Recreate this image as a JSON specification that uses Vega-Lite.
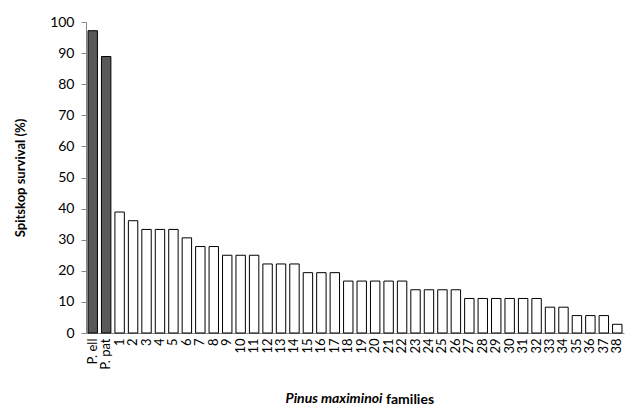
{
  "$schema": "https://vega.github.io/schema/vega-lite/v6.json",
  "width": 538,
  "height": 311,
  "autosize": {"type": "none"},
  "padding": {"left": 86, "top": 22, "right": 13, "bottom": 78},
  "background": "white",
  "config": {
    "view": {"stroke": null},
    "font": "Lato",
    "axis": {"domainColor": "#868686", "tickColor": "#868686", "labelColor": "#000000", "titleColor": "#000000", "grid": false}
  },
  "title": {
    "text": "families",
    "orient": "bottom",
    "anchor": "start",
    "frame": "group",
    "dx": 300,
    "offset": -12,
    "fontSize": 14,
    "fontWeight": "bold",
    "font": "Lato",
    "color": "#000000"
  },
  "data": {
    "values": [
      {"family": "P. ell", "survival": 97.2, "group": "check"},
      {"family": "P. pat", "survival": 88.9, "group": "check"},
      {"family": "1", "survival": 38.9, "group": "pm"},
      {"family": "2", "survival": 36.1, "group": "pm"},
      {"family": "3", "survival": 33.3, "group": "pm"},
      {"family": "4", "survival": 33.3, "group": "pm"},
      {"family": "5", "survival": 33.3, "group": "pm"},
      {"family": "6", "survival": 30.6, "group": "pm"},
      {"family": "7", "survival": 27.8, "group": "pm"},
      {"family": "8", "survival": 27.8, "group": "pm"},
      {"family": "9", "survival": 25.0, "group": "pm"},
      {"family": "10", "survival": 25.0, "group": "pm"},
      {"family": "11", "survival": 25.0, "group": "pm"},
      {"family": "12", "survival": 22.2, "group": "pm"},
      {"family": "13", "survival": 22.2, "group": "pm"},
      {"family": "14", "survival": 22.2, "group": "pm"},
      {"family": "15", "survival": 19.4, "group": "pm"},
      {"family": "16", "survival": 19.4, "group": "pm"},
      {"family": "17", "survival": 19.4, "group": "pm"},
      {"family": "18", "survival": 16.7, "group": "pm"},
      {"family": "19", "survival": 16.7, "group": "pm"},
      {"family": "20", "survival": 16.7, "group": "pm"},
      {"family": "21", "survival": 16.7, "group": "pm"},
      {"family": "22", "survival": 16.7, "group": "pm"},
      {"family": "23", "survival": 13.9, "group": "pm"},
      {"family": "24", "survival": 13.9, "group": "pm"},
      {"family": "25", "survival": 13.9, "group": "pm"},
      {"family": "26", "survival": 13.9, "group": "pm"},
      {"family": "27", "survival": 11.1, "group": "pm"},
      {"family": "28", "survival": 11.1, "group": "pm"},
      {"family": "29", "survival": 11.1, "group": "pm"},
      {"family": "30", "survival": 11.1, "group": "pm"},
      {"family": "31", "survival": 11.1, "group": "pm"},
      {"family": "32", "survival": 11.1, "group": "pm"},
      {"family": "33", "survival": 8.3, "group": "pm"},
      {"family": "34", "survival": 8.3, "group": "pm"},
      {"family": "35", "survival": 5.6, "group": "pm"},
      {"family": "36", "survival": 5.6, "group": "pm"},
      {"family": "37", "survival": 5.6, "group": "pm"},
      {"family": "38", "survival": 2.8, "group": "pm"}
    ]
  },
  "mark": {"type": "bar", "stroke": "#000000", "strokeWidth": 1},
  "encoding": {
    "x": {
      "field": "family",
      "type": "nominal",
      "sort": null,
      "scale": {"paddingInner": 0.3, "paddingOuter": 0.15},
      "axis": {
        "title": "Pinus maximinoi",
        "titleFontStyle": "italic",
        "titleFontWeight": "bold",
        "titleFontSize": 14,
        "titleAlign": "right",
        "titleBaseline": "alphabetic",
        "titleAnchor": null,
        "titleX": 296,
        "titleY": 69,
        "labelAngle": -90,
        "labelFontSize": 13,
        "labelPadding": 5,
        "ticks": false
      }
    },
    "y": {
      "field": "survival",
      "type": "quantitative",
      "scale": {"domain": [0, 100]},
      "axis": {
        "title": "Spitskop survival (%)",
        "titleFontSize": 13,
        "titleFontWeight": "bold",
        "titlePadding": 22,
        "values": [0, 10, 20, 30, 40, 50, 60, 70, 80, 90, 100],
        "labelFontSize": 14,
        "labelPadding": 7,
        "tickSize": 5
      }
    },
    "color": {
      "field": "group",
      "type": "nominal",
      "scale": {"domain": ["check", "pm"], "range": ["#595959", "#ffffff"]},
      "legend": null
    }
  }
}
